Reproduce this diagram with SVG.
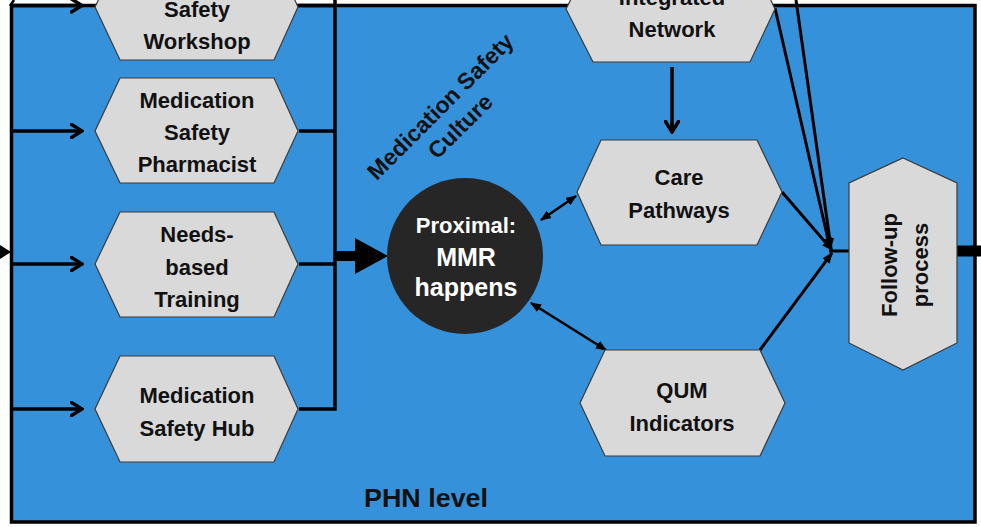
<svg xmlns="http://www.w3.org/2000/svg" width="981" height="527" viewBox="0 0 981 527">
  <style>
    .hex { fill: #D9D9D9; stroke: #3a3a3a; stroke-width: 1.2; }
    .lbl { font-family: "Liberation Sans", Arial, sans-serif; font-weight: bold; font-size: 22px; fill: #111; text-anchor: middle; }
    .wlbl { font-family: "Liberation Sans", Arial, sans-serif; font-weight: bold; fill: #fff; text-anchor: middle; }
    .ln { fill: none; stroke: #000; stroke-width: 3.5; }
    .ln2 { fill: none; stroke: #000; stroke-width: 3; }
    .ln3 { fill: none; stroke: #000; stroke-width: 2.6; }
  </style>
  <defs>
    <marker id="chev" viewBox="0 0 14 16" markerWidth="14" markerHeight="16" refX="12" refY="8" orient="auto" markerUnits="userSpaceOnUse">
      <path d="M1.5,1.5 L12,8 L1.5,14.5" fill="none" stroke="#000" stroke-width="3.5" stroke-linecap="round" stroke-linejoin="miter"/>
    </marker>
    <marker id="tri" viewBox="0 0 11 9" markerWidth="11" markerHeight="9" refX="10" refY="4.5" orient="auto-start-reverse" markerUnits="userSpaceOnUse">
      <path d="M0,0 L11,4.5 L0,9 z" fill="#000"/>
    </marker>
  </defs>

  <rect width="981" height="527" fill="#ffffff"/>

  <!-- PHN level frame -->
  <g id="phn-frame">
    <rect x="11.5" y="5.5" width="963.5" height="516.5" fill="#3592DA" stroke="#000" stroke-width="3.5"/>
    <text x="364" y="507" font-family="'Liberation Sans', Arial, sans-serif" font-weight="bold" font-size="25" fill="#111" textLength="124" lengthAdjust="spacingAndGlyphs">PHN level</text>
  </g>

  <!-- connectors -->
  <g id="connectors">
    <!-- stub from outside the frame -->
    <path class="ln3" d="M10,6 L14,0"/>
    <polygon points="0,245 11,252 0,259" fill="#000"/>

    <!-- inputs into the intervention hexagons -->
    <line class="ln" x1="13" y1="5.5" x2="82" y2="5.5" marker-end="url(#chev)"/>
    <line class="ln" x1="13" y1="131" x2="82" y2="131" marker-end="url(#chev)"/>
    <line class="ln" x1="13" y1="264" x2="82" y2="264" marker-end="url(#chev)"/>
    <line class="ln" x1="13" y1="409" x2="82" y2="409" marker-end="url(#chev)"/>

    <!-- collector bar on the right of the interventions -->
    <path class="ln" d="M298,5.5 H335"/>
    <path class="ln" d="M299,131 H335"/>
    <path class="ln" d="M299,264 H335"/>
    <path class="ln" d="M335,0 V409 H299"/>

    <!-- thick arrow into the MMR circle -->
    <line x1="335" y1="256" x2="358" y2="256" stroke="#000" stroke-width="10"/>
    <polygon points="355,238 388,256 355,274" fill="#000"/>

    <!-- Integrated Network to Care Pathways -->
    <line class="ln" x1="672" y1="67" x2="672" y2="132" marker-end="url(#chev)"/>

    <!-- two-way links with the circle -->
    <line class="ln3" x1="541" y1="220" x2="576" y2="196" marker-start="url(#tri)" marker-end="url(#tri)"/>
    <line class="ln3" x1="531" y1="303" x2="606" y2="350" marker-start="url(#tri)" marker-end="url(#tri)"/>

    <!-- converging links to follow-up -->
    <line class="ln2" x1="775" y1="8" x2="830" y2="248" marker-end="url(#tri)"/>
    <line class="ln2" x1="796" y1="0" x2="831" y2="248" marker-end="url(#tri)"/>
    <line class="ln2" x1="782" y1="192" x2="832" y2="250" marker-end="url(#tri)"/>
    <line class="ln2" x1="760" y1="350" x2="832" y2="253" marker-end="url(#tri)"/>
    <line class="ln2" x1="829" y1="251" x2="849" y2="251"/>

    <!-- output leaving the frame -->
    <line x1="957" y1="251" x2="981" y2="251" stroke="#000" stroke-width="11"/>
  </g>

  <!-- rotated caption -->
  <g id="culture-label" transform="translate(446,112) rotate(-45)">
    <text class="lbl" x="0" y="0" font-size="23" style="font-size:23px">Medication Safety</text>
    <text class="lbl" x="0" y="28" style="font-size:23px">Culture</text>
  </g>

  <g id="safety-workshop">
    <polygon class="hex" points="95,7 120,-46 274,-46 298,7 274,60 120,60"/>
    <text class="lbl" x="197" y="17">Safety</text>
    <text class="lbl" x="197" y="49">Workshop</text>
  </g>

  <g id="safety-pharmacist">
    <polygon class="hex" points="95,131 120,78 274,78 298,131 274,183 120,183"/>
    <text class="lbl" x="197" y="108">Medication</text>
    <text class="lbl" x="197" y="140">Safety</text>
    <text class="lbl" x="197" y="172">Pharmacist</text>
  </g>

  <g id="needs-training">
    <polygon class="hex" points="95,264 120,212 274,212 298,264 274,317 120,317"/>
    <text class="lbl" x="197" y="242">Needs-</text>
    <text class="lbl" x="197" y="275">based</text>
    <text class="lbl" x="197" y="307">Training</text>
  </g>

  <g id="safety-hub">
    <polygon class="hex" points="95,409 120,356 274,356 298,409 274,462 120,462"/>
    <text class="lbl" x="197" y="403">Medication</text>
    <text class="lbl" x="197" y="436">Safety Hub</text>
  </g>

  <g id="mmr-circle">
    <circle cx="465" cy="256" r="78" fill="#262626"/>
    <text class="wlbl" x="466" y="233" font-size="22">Proximal:</text>
    <text class="wlbl" x="466" y="266" font-size="25">MMR</text>
    <text class="wlbl" x="466" y="296" font-size="25">happens</text>
  </g>

  <g id="integrated-network">
    <polygon class="hex" points="566,9 593,-44 750,-44 775,9 750,62 593,62"/>
    <text class="lbl" x="672" y="5">Integrated</text>
    <text class="lbl" x="672" y="37">Network</text>
  </g>

  <g id="care-pathways">
    <polygon class="hex" points="577,192 601,140 757,140 782,192 757,245 601,245"/>
    <text class="lbl" x="679" y="185">Care</text>
    <text class="lbl" x="679" y="218">Pathways</text>
  </g>

  <g id="qum-indicators">
    <polygon class="hex" points="580,403 605,350 760,350 785,403 760,456 605,456"/>
    <text class="lbl" x="682" y="398">QUM</text>
    <text class="lbl" x="682" y="431">Indicators</text>
  </g>

  <g id="follow-up">
    <polygon class="hex" points="903,158 957,183 957,343 903,370 849,343 849,183"/>
    <g transform="translate(903,265) rotate(-90)">
      <text class="lbl" x="0" y="-6">Follow-up</text>
      <text class="lbl" x="0" y="25">process</text>
    </g>
  </g>
</svg>
